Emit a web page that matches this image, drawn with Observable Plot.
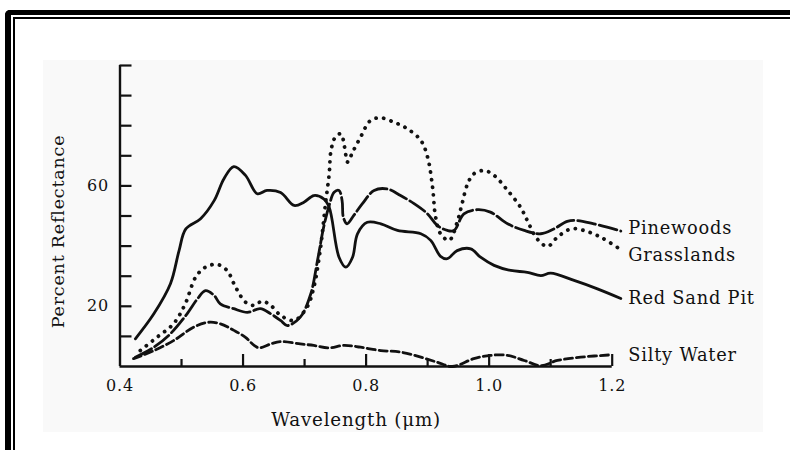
<!DOCTYPE html>
<html>
<head>
<meta charset="utf-8">
<script src="https://cdn.jsdelivr.net/npm/d3@7"></script>
<script src="https://cdn.jsdelivr.net/npm/@observablehq/plot@0.6"></script>
<style>
  html, body { margin: 0; padding: 0; background: #fff; }
  #wrap { position: relative; width: 790px; height: 450px; overflow: hidden; }
  #panel { position: absolute; left: 43px; top: 60px; width: 720px; height: 372px; background: #f9f9f9; }
  #chart { position: absolute; left: 0; top: 0; }
  .b { position: absolute; background: #000; }
</style>
</head>
<body>
<div id="wrap">
  <div id="panel"></div>
  <div id="chart"></div>
  <div class="b" style="left:5px; top:10px; width:785px; height:5px; border-top-left-radius:5px;"></div>
  <div class="b" style="left:5px; top:10px; width:6px; height:440px; border-top-left-radius:5px;"></div>
  <div class="b" style="left:13px; top:17px; width:777px; height:1.5px;"></div>
  <div class="b" style="left:13px; top:17px; width:1.5px; height:433px;"></div>
</div>
<script>
// ---- data ----
const pinewoodsX = [0.425,0.455,0.482,0.509,0.526,0.539,0.553,0.563,0.585,0.607,0.628,0.645,0.661,0.672,0.693,0.710,0.721,0.731,0.740,0.748,0.756,0.761,0.763,0.769,0.780,0.794,0.813,0.834,0.856,0.878,0.900,0.916,0.932,0.943,0.959,0.981,1.002,1.030,1.057,1.084,1.105,1.127,1.143,1.170,1.214];
const pinewoodsY = [3.1,6.4,10.9,17.5,22.5,25.2,23.6,20.8,19.2,18.0,19.2,17.5,15.3,13.6,16.4,24.1,35.2,46.3,53.5,57.9,58.5,55.1,49.6,47.4,50.2,54.1,58.5,59.0,56.8,54.1,50.7,46.8,45.2,45.2,50.7,52.1,51.3,47.4,45.2,44.1,45.7,48.2,48.5,47.4,45.0];

const grasslandsX = [0.433,0.460,0.487,0.506,0.523,0.539,0.558,0.574,0.588,0.604,0.618,0.631,0.645,0.661,0.683,0.704,0.715,0.726,0.734,0.740,0.743,0.750,0.759,0.765,0.770,0.778,0.791,0.807,0.824,0.845,0.867,0.889,0.900,0.908,0.913,0.921,0.935,0.948,0.956,0.965,0.975,0.992,1.008,1.030,1.051,1.062,1.078,1.095,1.111,1.133,1.154,1.181,1.214];
const grasslandsY = [5.3,9.7,14.2,20.8,29.7,33.0,33.9,31.9,26.3,21.4,20.3,21.7,20.3,17.0,15.3,19.7,26.3,39.6,54.1,64.0,71.8,76.2,77.3,72.9,67.9,71.2,76.2,81.7,82.6,81.2,79.0,75.1,69.5,59.6,49.6,44.1,41.9,47.9,54.1,60.7,64.0,65.1,63.5,58.5,52.9,48.5,42.4,39.9,43.0,45.7,45.2,43.0,38.8];

const redSandX = [0.425,0.455,0.482,0.496,0.507,0.531,0.553,0.569,0.585,0.604,0.623,0.639,0.661,0.683,0.699,0.715,0.731,0.740,0.756,0.767,0.778,0.786,0.802,0.824,0.851,0.889,0.905,0.921,0.932,0.948,0.970,0.986,1.008,1.035,1.062,1.084,1.100,1.138,1.176,1.214];
const redSandY = [9.2,17.5,27.5,38.5,45.7,49.1,55.1,62.4,66.4,63.5,57.4,58.5,57.8,53.5,54.6,56.8,55.7,52.9,36.3,33.0,36.3,44.1,47.9,47.4,45.2,44.1,41.9,36.6,35.8,38.5,39.1,36.3,33.6,31.9,31.3,30.2,31.0,28.6,25.8,22.6];

const siltyX = [0.422,0.455,0.487,0.520,0.544,0.563,0.585,0.604,0.618,0.626,0.645,0.661,0.693,0.715,0.740,0.764,0.791,0.824,0.856,0.889,0.916,0.940,0.975,1.002,1.030,1.057,1.084,1.111,1.149,1.200];
const siltyY = [2.6,5.3,8.6,13.1,14.7,14.2,12.0,9.7,7.0,6.2,7.5,8.3,7.5,7.0,6.2,7.0,6.4,5.3,4.8,3.1,1.4,0.0,2.6,3.7,3.7,2.0,0.3,2.0,3.1,3.9];

const seriesNames = ["Pinewoods", "Grasslands", "Red Sand Pit", "Silty Water"];
const labelY = [45.8, 36.9, 22.6, 3.7];

const yTicks = [10,20,30,40,50,60,70,80,90,100];
const yTickLabels = [20, 60];
const xMajorTicks = [0.6, 0.8, 1.0, 1.2];
const xMinorTicks = [0.5, 0.7, 0.9, 1.1];
const xTickLabels = [0.4, 0.6, 0.8, 1.0, 1.2];

const xTitle = "Wavelength (\u03bcm)";
const yTitle = "Percent Reflectance";

// ---- build ----
const zip = (xs, ys) => xs.map((x, i) => ({x, y: ys[i]}));
const pine = zip(pinewoodsX, pinewoodsY);
const grass = zip(grasslandsX, grasslandsY);
const red = zip(redSandX, redSandY);
const silty = zip(siltyX, siltyY);
const labels = seriesNames.map((name, i) => ({name, y: labelY[i]}));

const W = 790, H = 450, mT = 65, mB = 84;
const frameH = H - mT - mB;
const ink = "#111";
const chart = Plot.plot({
  width: W,
  height: H,
  marginLeft: 119.5,
  marginRight: 178.3,
  marginTop: mT,
  marginBottom: mB,
  x: {domain: [0.4, 1.2], label: null},
  y: {domain: [0, 100], label: null},
  style: {background: "transparent", fontFamily: "'DejaVu Serif', serif", fontSize: "16px", color: ink, overflow: "visible", letterSpacing: "0.8px"},
  marks: [
    // axis labels
    Plot.axisY(yTickLabels, {anchor: "left", tickSize: 0, tickPadding: 11, fontSize: 16, label: null}),
    Plot.axisX(xTickLabels, {anchor: "bottom", tickSize: 0, tickPadding: 13, fontSize: 16, label: null, tickFormat: d3.format(".1f")}),
    // inward tick marks
    Plot.axisY(yTicks, {anchor: "left", tickSize: 12, dx: 12, tickFormat: () => "", stroke: ink, strokeWidth: 2.2, label: null}),
    Plot.ruleX(xMajorTicks, {stroke: ink, strokeWidth: 2.2, insetTop: frameH - 12}),
    Plot.ruleX(xMinorTicks, {stroke: ink, strokeWidth: 2.2, insetTop: frameH - 7}),
    // axis lines
    Plot.ruleX([0.4], {stroke: ink, strokeWidth: 2.4}),
    Plot.ruleY([0], {stroke: ink, strokeWidth: 2.4}),
    // series
    Plot.line(red, {x: "x", y: "y", stroke: ink, strokeWidth: 2.8, curve: "catmull-rom"}),
    Plot.line(pine, {x: "x", y: "y", stroke: ink, strokeWidth: 2.8, strokeDasharray: "18,4", curve: "catmull-rom"}),
    Plot.line(grass, {x: "x", y: "y", stroke: ink, strokeWidth: 3.8, strokeDasharray: "0.1,7.6", strokeLinecap: "round", curve: "catmull-rom"}),
    Plot.line(silty, {x: "x", y: "y", stroke: ink, strokeWidth: 2.8, strokeDasharray: "8,4", curve: "catmull-rom"}),
    // series labels
    Plot.text(labels, {x: () => 1.2, y: "y", text: "name", dx: 16, textAnchor: "start", lineAnchor: "middle", fontSize: 17.8, fill: ink}),
    // axis titles
    Plot.text([xTitle], {frameAnchor: "bottom", textAnchor: "middle", lineAnchor: "middle", dx: -10, dy: 54, fontSize: 18.3, fill: ink}),
    Plot.text([yTitle], {frameAnchor: "left", textAnchor: "middle", lineAnchor: "middle", rotate: -90, dx: -62, dy: 15.5, fontSize: 17.5, fill: ink})
  ]
});
document.getElementById("chart").appendChild(chart);
</script>
</body>
</html>
